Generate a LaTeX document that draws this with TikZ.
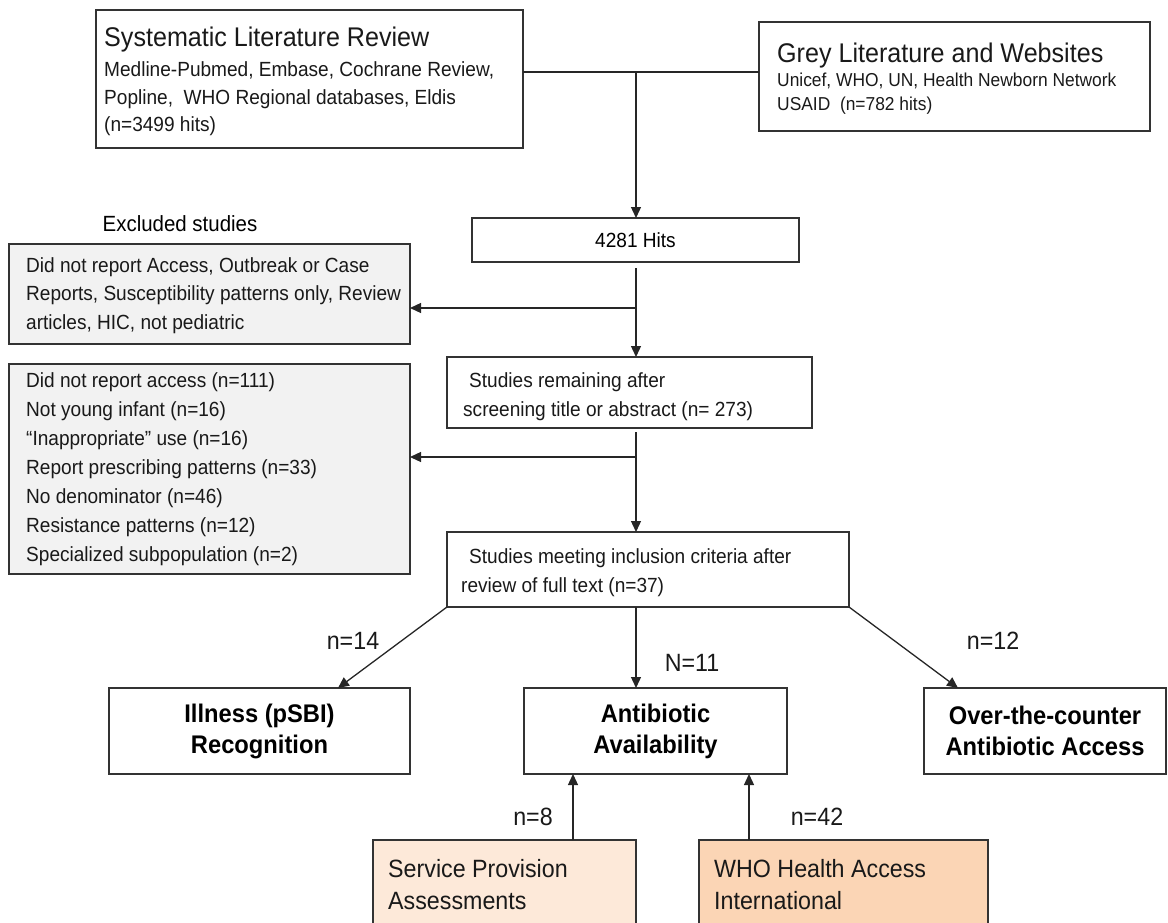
\documentclass[tikz,border=0pt]{standalone}
\usepackage{fontspec}
\setmainfont{Liberation Sans}[FakeStretch=0.93]
\usetikzlibrary{arrows.meta}
\definecolor{boxline}{HTML}{333333}
\definecolor{exfill}{HTML}{F2F2F2}
\definecolor{spafill}{HTML}{FDE9D9}
\definecolor{whofill}{HTML}{FBD5B5}
\newcommand\fttl{\fontsize{27}{32}\selectfont}
\newcommand\fbod{\fontsize{20.5}{29}\selectfont}
\newcommand\fgrb{\fontsize{18.7}{24}\selectfont}
\newcommand\fbig{\bfseries\fontsize{25.5}{31}\selectfont}
\newcommand\flab{\fontsize{25}{30}\selectfont}
\newcommand\fexl{\fontsize{22}{26}\selectfont}
\tikzset{
  box/.style={draw=boxline, line width=1.5pt, anchor=north west, inner sep=0pt, outer sep=0pt},
  exbox/.style={box, fill=exfill},
  tl/.style={anchor=base west, inner sep=0pt, text=black!90},
  lab/.style={anchor=center, inner sep=0pt, font=\flab, text=black!90},
  arr/.style={-{Triangle[length=11pt,width=10pt]}, line width=1.3pt, draw=black!85},
  ln/.style={line width=1.3pt, draw=black!85}
}
\begin{document}
\begin{tikzpicture}[x=1pt,y=-1pt]
\useasboundingbox (0,0) rectangle (1168,923);
\clip (0,0) rectangle (1168,923);

% boxes
\node[box, minimum width=427pt, minimum height=138pt] (slr) at (96,10) {};
\node[box, minimum width=391pt, minimum height=109pt] (grey) at (759,22) {};
\node[box, minimum width=327pt, minimum height=44pt, font=\fbod] (hits) at (472,218) {4281 Hits};
\node[exbox, minimum width=401pt, minimum height=100pt] (ex1) at (9,244) {};
\node[exbox, minimum width=401pt, minimum height=210pt] (ex2) at (9,364) {};
\node[box, minimum width=365pt, minimum height=71pt] (rem) at (447,357) {};
\node[box, minimum width=402pt, minimum height=75pt] (incl) at (447,532) {};
\node[box, minimum width=301pt, minimum height=86pt, align=center, font=\fbig] (ill) at (109,688) {Illness (pSBI)\\Recognition};
\node[box, minimum width=263pt, minimum height=86pt, align=center, font=\fbig] (avail) at (524,688) {Antibiotic\\Availability};
\node[box, minimum width=242pt, minimum height=86pt, align=center, font=\fbig] (otc) at (924,688) {Over-the-counter\\Antibiotic Access};
\node[box, fill=spafill, minimum width=263pt, minimum height=100pt] (spa) at (373,840) {};
\node[box, fill=whofill, minimum width=289pt, minimum height=100pt] (who) at (699,840) {};

% texts
\node[tl, font=\fttl] (t1) at (104,47) {Systematic Literature Review};
\node[tl, font=\fbod] (t2) at (104,77) {Medline-Pubmed, Embase, Cochrane Review,};
\node[tl, font=\fbod] (t3) at (104,105) {Popline,~ WHO Regional databases, Eldis};
\node[tl, font=\fbod] (t4) at (104,132) {(n=3499 hits)};

\node[tl, font=\fttl] (g1) at (777,63) {Grey Literature and Websites};
\node[tl, font=\fgrb] (g2) at (777,87) {Unicef, WHO, UN, Health Newborn Network};
\node[tl, font=\fgrb] (g3) at (777,111) {USAID~ (n=782 hits)};

\node[anchor=center, inner sep=0pt, font=\fexl] (exl) at (180,224) {Excluded studies};

\node[tl, font=\fbod] (e1) at (26,272) {Did not report Access, Outbreak or Case};
\node[tl, font=\fbod] (e2) at (26,300.5) {Reports, Susceptibility patterns only, Review};
\node[tl, font=\fbod] (e3) at (26,329) {articles, HIC, not pediatric};

\node[tl, font=\fbod] (d1) at (26,387) {Did not report access (n=111)};
\node[tl, font=\fbod] (d2) at (26,416) {Not young infant (n=16)};
\node[tl, font=\fbod] (d3) at (26,445) {“Inappropriate” use (n=16)};
\node[tl, font=\fbod] (d4) at (26,474) {Report prescribing patterns (n=33)};
\node[tl, font=\fbod] (d5) at (26,503) {No denominator (n=46)};
\node[tl, font=\fbod] (d6) at (26,532) {Resistance patterns (n=12)};
\node[tl, font=\fbod] (d7) at (26,561) {Specialized subpopulation (n=2)};

\node[tl, font=\fbod] (r1) at (469,387) {Studies remaining after};
\node[tl, font=\fbod] (r2) at (463,416) {screening title or abstract (n= 273)};

\node[tl, font=\fbod] (i1) at (469,563) {Studies meeting inclusion criteria after};
\node[tl, font=\fbod] (i2) at (461,592) {review of full text (n=37)};

\node[tl, font=\flab] (s1t) at (388,877) {Service Provision};
\node[tl, font=\flab] (s2t) at (388,909) {Assessments};
\node[tl, font=\flab] (w1t) at (714,877) {WHO Health Access};
\node[tl, font=\flab] (w2t) at (714,909) {International};

% labels
\node[lab] (n14) at (353,641) {n=14};
\node[lab] (n11) at (692,663) {N=11};
\node[lab] (n12) at (993,641) {n=12};
\node[lab] (n8) at (533,817) {n=8};
\node[lab] (n42) at (817,817) {n=42};

% connectors
\coordinate (j1) at (636,72);
\coordinate (j2) at (636,308);
\coordinate (j3) at (636,457);
\draw[ln] (slr.east |- j1) -- (grey.west |- j1);
\draw[arr] (j1) -- (j1 |- hits.north);
\draw[arr, shorten <=6pt] (j1 |- hits.south) -- (j1 |- rem.north);
\draw[arr] (j2) -- (j2 -| ex1.east);
\draw[arr, shorten <=4pt] (j1 |- rem.south) -- (j1 |- incl.north);
\draw[arr] (j3) -- (j3 -| ex2.east);

\draw[arr] (incl.south west) -- ([xshift=229pt]ill.north west);
\draw[arr] ([xshift=189pt]incl.south west) -- ([xshift=112pt]avail.north west);
\draw[arr] (incl.south east) -- ([xshift=34pt]otc.north west);

\coordinate (s1) at ([xshift=200pt]spa.north west);
\coordinate (w1) at ([xshift=50pt]who.north west);
\draw[arr] (s1) -- (s1 |- avail.south);
\draw[arr] (w1) -- (w1 |- avail.south);
\end{tikzpicture}
\end{document}
